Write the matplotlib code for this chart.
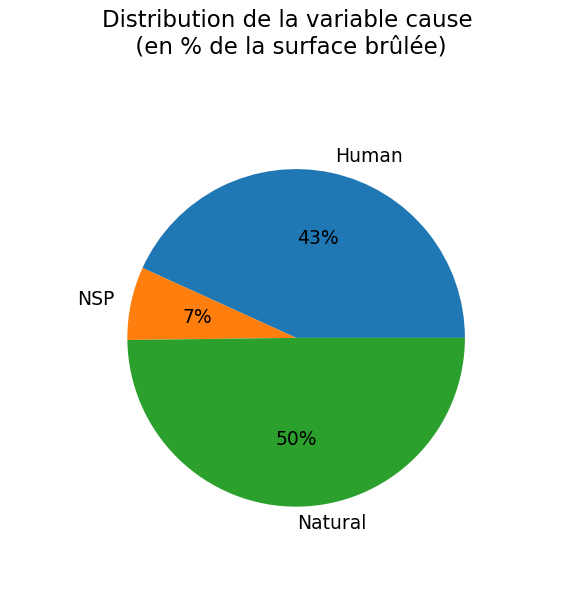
import matplotlib
matplotlib.use('Agg')
import matplotlib.pyplot as plt

causes = ['Human', 'NSP', 'Natural']
parts = [43.2, 7.0, 49.8]

fig = plt.figure(figsize=(5.75, 6.16), dpi=100)
ax = fig.add_axes([0.148, 0.109, 0.734, 0.685])
ax.pie(parts, labels=causes, autopct='%1.0f%%', textprops={'fontsize': 13.5})
ax.set_aspect('equal')
fig.suptitle('Distribution de la variable cause\n (en % de la surface brûlée)',
             fontsize=16.5, y=0.985)
plt.savefig('out.png')
